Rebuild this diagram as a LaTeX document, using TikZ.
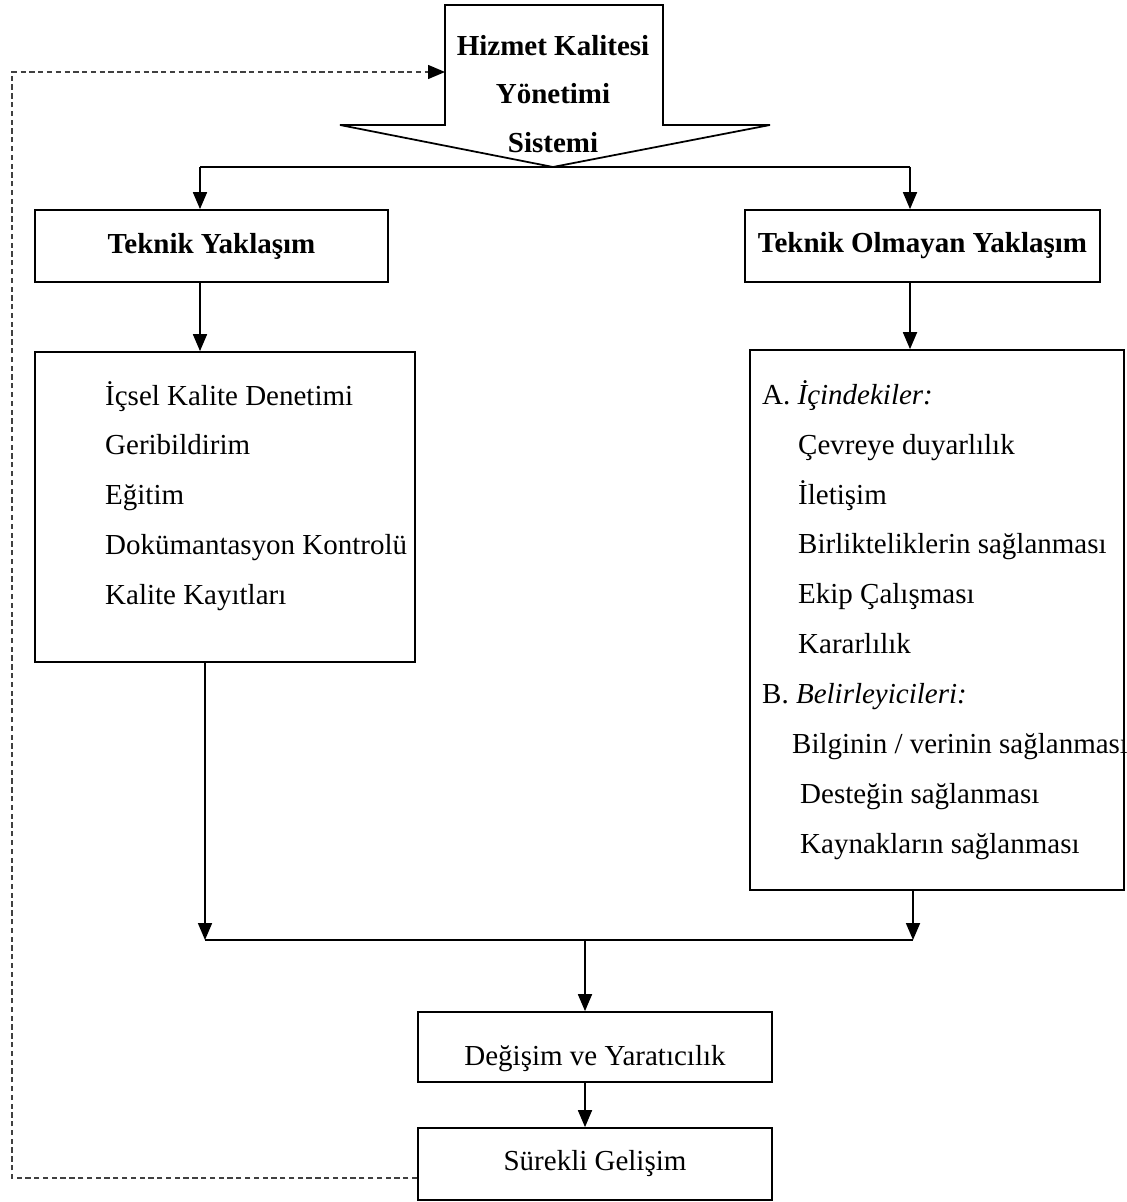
\documentclass[tikz,border=0pt]{standalone}
\usepackage{fontspec}
\setmainfont{Liberation Serif}
\usetikzlibrary{arrows.meta}

\begin{document}
\begin{tikzpicture}[x=0.02cm, y=-0.02cm,
		font=\fontsize{16.5}{28.4}\selectfont,
		box/.style={draw, rectangle, line width=1pt, inner sep=0pt},
		arr/.style={-{Triangle[length=0.34cm, width=0.28cm]}, line width=1pt},
		fb/.style={densely dashed, line width=0.8pt, black!75}]
		\useasboundingbox (0,0) rectangle (1126,1202);

		% Top arrow
		\draw[line width=1pt] (445,125) -- (445,5) -- (663,5) -- (663,125) -- (770,125) -- (553,167) -- (340,125) -- cycle;
		\node (box1) [align=center, font={\fontsize{16.5}{27.8}\selectfont\bfseries}] at (553,94) {Hizmet Kalitesi\\Yönetimi\\Sistemi};
		\coordinate (tip) at (553,167);
		\coordinate (in) at (445,72);

		\node (box2) [box, minimum width=7.06cm, minimum height=1.44cm] at (211.5,246) {\bfseries Teknik Yaklaşım};
		\node (box3) [box, minimum width=7.1cm, minimum height=1.44cm] at (922.5,246) {\bfseries Teknik Olmayan Yaklaşım};
		\node (box4) [box, minimum width=7.6cm, minimum height=6.2cm] at (225,507) {};
		\node (list4) [anchor=west, align=left] at (99,496) {İçsel Kalite Denetimi\\Geribildirim\\Eğitim\\Dokümantasyon Kontrolü\\Kalite Kayıtları};
		\node (box5) [box, minimum width=7.48cm, minimum height=10.8cm] at (937,620) {};
		\node (list5) [anchor=west, align=left] at (756,620) {A. \textit{İçindekiler:}\\
			\hspace*{0.72cm}Çevreye duyarlılık\\
			\hspace*{0.72cm}İletişim\\
			\hspace*{0.72cm}Birlikteliklerin sağlanması\\
			\hspace*{0.72cm}Ekip Çalışması\\
			\hspace*{0.72cm}Kararlılık\\
			B. \textit{Belirleyicileri:}\\
			\hspace*{0.6cm}Bilginin / verinin sağlanması\\
			\hspace*{0.76cm}Desteğin sağlanması\\
			\hspace*{0.76cm}Kaynakların sağlanması};
		\node (box6) [box, minimum width=7.08cm, minimum height=1.4cm, text height=0.85cm, text depth=0.13cm] at (595,1047) {Değişim ve Yaratıcılık};
		\node (box7) [box, minimum width=7.08cm, minimum height=1.44cm] at (595,1164) {Sürekli Gelişim};

		% Arrows
		\coordinate (j1) at (200,167);
		\coordinate (j2) at (910,167);
		\coordinate (j3) at (205,940);
		\coordinate (j4) at (913,940);
		\coordinate (j5) at (585,940);
		\coordinate (f2) at (12,72);
		\draw[line width=1pt] (j1) -- (tip) -- (j2);
		\draw[arr] (j1) -- (j1 |- box2.north);
		\draw[arr] (j2) -- (j2 |- box3.north);
		\draw[arr] (j1 |- box2.south) -- (j1 |- box4.north);
		\draw[arr] (j2 |- box3.south) -- (j2 |- box5.north);
		\draw[arr] (j3 |- box4.south) -- (j3);
		\draw[arr] (j4 |- box5.south) -- (j4);
		\draw[line width=1pt] (j3) -- (j4);
		\draw[arr] (j5) -- (j5 |- box6.north);
		\draw[arr] (j5 |- box6.south) -- (j5 |- box7.north);
		\draw[fb, -{Triangle[length=0.34cm, width=0.28cm, color=black]}] ([yshift=-0.28cm]box7.west) -| (f2) -- (in);
	\end{tikzpicture}
\end{document}
